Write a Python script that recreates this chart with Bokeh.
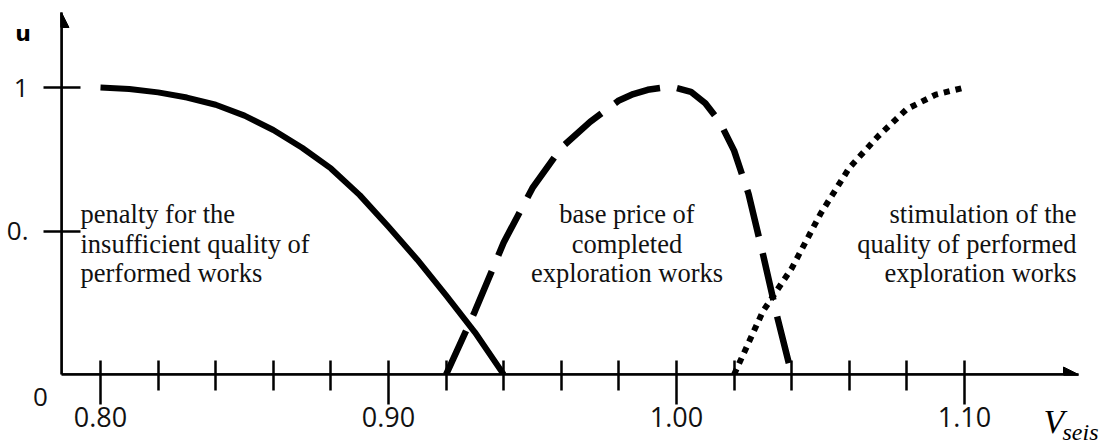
from bokeh.plotting import figure
from bokeh.models import Range1d, LinearAxis, FixedTicker, Arrow, NormalHead
from bokeh.core.properties import value
from bokeh.embed import file_html
from bokeh.resources import INLINE

# ---------------- data ----------------
penalty_x = [0.80, 0.81, 0.82, 0.83, 0.84, 0.85, 0.86, 0.87, 0.88, 0.89, 0.90, 0.91, 0.92, 0.93, 0.94]
penalty_y = [1.000, 0.995, 0.983, 0.965, 0.940, 0.902, 0.852, 0.790, 0.718, 0.625, 0.515, 0.400, 0.276, 0.147, 0.000]

base_x = [0.920, 0.930, 0.940, 0.950, 0.960, 0.970, 0.980, 0.985, 0.990, 0.995, 1.000,
          1.005, 1.010, 1.015, 1.020, 1.025, 1.030, 1.035, 1.040]
base_y = [0.00, 0.22, 0.46, 0.65, 0.79, 0.88, 0.955, 0.977, 0.992, 0.999, 0.998,
          0.985, 0.945, 0.88, 0.78, 0.63, 0.42, 0.20, 0.00]

stim_x = [1.02, 1.03, 1.04, 1.05, 1.06, 1.07, 1.08, 1.09, 1.10]
stim_y = [0.00, 0.22, 0.37, 0.56, 0.72, 0.83, 0.925, 0.975, 1.00]

x_major = [0.80, 0.90, 1.00, 1.10]
x_minor = [0.82, 0.84, 0.86, 0.88, 0.92, 0.94, 0.96, 0.98, 1.02, 1.04, 1.06, 1.08]
x_tick_labels = ["0.80", "0.90", "1.00", "1.10"]
y_major = [0.5, 1.0]
y_tick_labels = ["0.", "1"]
y_zero_label = "0"

penalty_text = ["penalty for the", "insufficient quality of", "performed works"]
base_text = ["base price of", "completed", "exploration works"]
stim_text = ["stimulation of the", "quality of performed", "exploration works"]

# ---------------- layout helpers (canvas pixel -> data) ----------------
def dx(px):
    return 0.80 + (px - 100) / 2880.0

def dy(py):
    return (374 - py) / 287.0

W, H = 1106, 446
p = figure(width=W, height=H,
           x_range=Range1d(dx(61), dx(1078)), y_range=Range1d(0, dy(12)),
           output_backend="svg", toolbar_location=None,
           x_axis_type=None, y_axis_type=None,
           min_border_left=61, min_border_right=W - 1078, min_border_top=12,
           min_border_bottom=H - 374)
p.outline_line_color = None
p.background_fill_color = "white"
p.border_fill_color = "white"

num_font = "Open Sans"

xaxis = LinearAxis(ticker=FixedTicker(ticks=x_major, minor_ticks=x_minor))
xaxis.axis_line_width = 2.5
xaxis.axis_line_color = "black"
xaxis.major_tick_line_width = 2.5
xaxis.minor_tick_line_width = 2.5
xaxis.major_tick_line_color = "black"
xaxis.minor_tick_line_color = "black"
xaxis.major_tick_in = 14
xaxis.major_tick_out = 30
xaxis.minor_tick_in = 14
xaxis.minor_tick_out = 16
xaxis.major_label_overrides = dict(zip(x_major, x_tick_labels))
xaxis.major_label_text_font = num_font
xaxis.major_label_text_font_size = "27px"
xaxis.major_label_text_color = "#111111"
xaxis.major_label_standoff = 2
p.add_layout(xaxis, "below")

yaxis = LinearAxis(ticker=FixedTicker(ticks=y_major, minor_ticks=[]))
yaxis.axis_line_width = 2.5
yaxis.axis_line_color = "black"
yaxis.major_tick_line_width = 2.5
yaxis.major_tick_line_color = "black"
yaxis.major_tick_in = 19
yaxis.major_tick_out = 18
yaxis.minor_tick_in = 0
yaxis.minor_tick_out = 0
yaxis.major_label_overrides = dict(zip(y_major, y_tick_labels))
yaxis.major_label_text_font = num_font
yaxis.major_label_text_font_size = "26px"
yaxis.major_label_text_color = "#111111"
yaxis.major_label_standoff = 15
p.add_layout(yaxis, "left")

# arrow heads on the axes
p.add_layout(Arrow(end=NormalHead(size=15, fill_color="black", line_color="black"),
                   x_start=dx(61), y_start=0, x_end=dx(61), y_end=dy(12),
                   line_color="black", line_width=2.5))
p.add_layout(Arrow(end=NormalHead(size=15, fill_color="black", line_color="black"),
                   x_start=dx(61), y_start=0, x_end=dx(1078), y_end=0,
                   line_color="black", line_width=2.5))

# curves
p.line(penalty_x, penalty_y, line_color="black", line_width=6, line_join="round")
p.line(base_x, base_y, line_color="black", line_width=6.5, line_dash="48 17", line_join="round")
p.line(stim_x, stim_y, line_color="black", line_width=6, line_dash="6 6")

# texts outside the frame (overlay level so they are not clipped)
p.text(x=[dx(40)], y=[dy(396)], text=[y_zero_label], text_font=value(num_font),
       text_font_size=value("26px"), text_align="center", text_baseline="alphabetic",
       text_color="#111111", level="overlay")
p.text(x=[dx(22.5)], y=[dy(33)], text=["u"], text_font=value("DejaVu Sans"),
       text_font_style="bold", text_font_size=value("22px"), text_align="center",
       text_baseline="alphabetic", text_color="black", level="overlay")
p.text(x=[dx(1043)], y=[dy(421)], text=["V"], text_font=value("Liberation Serif"),
       text_font_style="italic", text_font_size=value("34px"), text_align="left",
       text_baseline="alphabetic", text_color="black", level="overlay")
p.text(x=[dx(1062)], y=[dy(431)], text=["seis"], text_font=value("Liberation Serif"),
       text_font_style="italic", text_font_size=value("24px"), text_align="left",
       text_baseline="alphabetic", text_color="black", level="overlay")

# region annotations
baselines = [213.5, 243, 272.5]
blocks = [(penalty_text, 80, "left"), (base_text, 626.5, "center"), (stim_text, 1076, "right")]
for lines, px, align in blocks:
    p.text(x=[dx(px)] * len(lines), y=[dy(b) for b in baselines], text=lines,
           text_font=value("Liberation Serif"), text_font_size=value("26.5px"),
           text_align=align, text_baseline="alphabetic", text_color="#111111")

open("out.html", "w").write(file_html(p, INLINE))
